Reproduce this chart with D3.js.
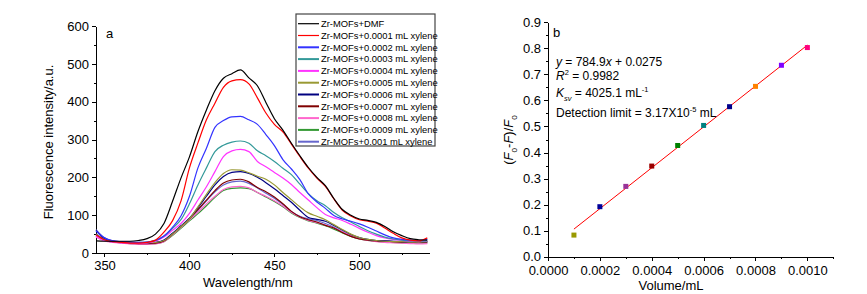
<!DOCTYPE html>
<html>
<head>
<meta charset="utf-8">
<script src="https://cdn.jsdelivr.net/npm/d3@7"></script>
<style>
  body { margin: 0; background: #fff; }
  svg text { font-family: 'Liberation Sans', Arial, sans-serif; fill: #000; }
  .axis path, .axis line { stroke: #000; stroke-width: 1; shape-rendering: crispEdges; }
  .axis text { font-size: 13px; }
  .curve { fill: none; stroke-width: 1.2; }
</style>
</head>
<body>
<div id="graph"></div>
<script>
// Panel a: fluorescence spectra
var wavelengths = [345, 350, 355, 360, 365, 370, 375, 380, 385, 390,
                   395, 400, 405, 410, 415, 420, 425, 430, 435, 440,
                   445, 450, 455, 460, 465, 470, 475, 480, 485, 490,
                   495, 500, 505, 510, 515, 520, 525, 530, 535, 540];

var sDMF   = [32,31,31,31,31,33,38,50,78,136, 198,254,321,378,429,462,474,484,463,442, 398,355,325,290,257,226,200,178,144,115, 100,90,86,81,70,56,46,38,35,34];
var s0001  = [48,35,30,28,26,26,28,34,55,85, 137,225,291,352,396,438,455,458,447,410, 370,340,320,288,255,224,198,176,143,113, 98,88,84,79,66,52,40,34,32,40];
var s0002  = [58,40,32,30,29,28,29,33,45,68, 98,150,225,277,332,350,360,361,352,340, 313,284,247,222,194,156,135,118,99,90, 84,77,68,58,48,40,36,34,33,36];
var s0003  = [50,35,31,29,28,28,29,33,45,65, 88,130,180,225,268,285,293,296,290,270, 257,242,224,207,182,157,138,125,107,93, 82,70,59,50,42,37,34,32,31,32];
var s0004  = [45,33,29,27,26,26,27,31,42,60, 78,105,140,175,215,255,270,274,268,242, 228,213,198,181,160,140,120,102,93,86, 76,65,55,46,40,36,33,31,30,31];
var s0005  = [48,34,30,28,27,26,27,28,33,50, 70,90,122,155,186,210,220,219,212,203, 195,180,160,141,122,106,97,88,75,62, 50,41,36,33,31,30,30,29,29,30];
var s0006  = [60,38,31,29,28,27,27,28,34,52, 72,92,120,150,180,202,213,215,210,200, 186,170,152,134,113,94,89,84,73,61, 49,41,36,33,32,31,30,29,29,30];
var s0007  = [50,35,30,28,26,25,25,26,32,50, 70,90,115,140,165,185,193,195,188,173, 162,148,130,110,96,88,82,73,66,54, 44,37,34,32,31,30,29,28,28,29];
var s0008  = [42,32,28,26,24,23,23,24,30,48, 68,88,108,130,150,168,175,176,172,160, 150,138,124,108,95,86,80,74,66,56, 46,38,33,30,28,27,26,25,24,25];
var s0009  = [45,33,29,27,25,24,24,25,30,46, 65,85,104,125,147,165,171,172,170,160, 148,136,122,106,94,85,79,72,63,53, 44,37,33,31,29,28,27,26,26,27];
var s001   = [62,40,32,29,28,27,27,28,33,50, 70,90,113,138,162,180,188,190,184,172, 158,145,128,110,97,90,86,78,68,56, 46,39,35,33,32,31,30,29,29,30];

var spectra = [sDMF, s0001, s0002, s0003, s0004, s0005, s0006, s0007, s0008, s0009, s001];

var legendLabels  = ['Zr-MOFs+DMF', 'Zr-MOFs+0.0001 mL xylene', 'Zr-MOFs+0.0002 mL xylene',
                     'Zr-MOFs+0.0003 mL xylene', 'Zr-MOFs+0.0004 mL xylene', 'Zr-MOFs+0.0005 mL xylene',
                     'Zr-MOFs+0.0006 mL xylene', 'Zr-MOFs+0.0007 mL xylene', 'Zr-MOFs+0.0008 mL xylene',
                     'Zr-MOFs+0.0009 mL xylene', 'Zr-MOFs+0.001 mL xylene'];
var legendColours = ['#000000', '#ff0000', '#3333ff', '#339999', '#ff33ff', '#999933',
                     '#000080', '#800000', '#ff66cc', '#339933', '#6666cc'];

var aXTicks      = [350, 400, 450, 500];
var aXMinorTicks = [375, 425, 475, 525];
var aYTicks      = [0, 100, 200, 300, 400, 500, 600];
var aYMinorTicks = [50, 150, 250, 350, 450, 550];

// Panel b: Stern-Volmer plot
var volumes   = [0.0001, 0.0002, 0.0003, 0.0004, 0.0005, 0.0006, 0.0007, 0.0008, 0.0009, 0.0010];
var quenching = [0.083, 0.192, 0.270, 0.348, 0.427, 0.504, 0.576, 0.654, 0.735, 0.803];
var pointColours = ['#999900', '#000099', '#993399', '#990000', '#008000',
                    '#008080', '#00008b', '#ff8000', '#8000ff', '#ff0080'];
var fitSlope     = 784.9;
var fitIntercept = 0.0275;

var bXTicks      = [0, 0.0002, 0.0004, 0.0006, 0.0008, 0.0010];
var bXMinorTicks = [0.0001, 0.0003, 0.0005, 0.0007, 0.0009, 0.0011];
var bYTicks      = [0, 0.1, 0.2, 0.3, 0.4, 0.5, 0.6, 0.7, 0.8, 0.9];
var bYMinorTicks = [0.05, 0.15, 0.25, 0.35, 0.45, 0.55, 0.65, 0.75, 0.85];


var svg = d3.select ('div#graph')
            .append ('svg')
            .attr ('width', 867)
            .attr ('height', 294);

// writes a text made of styled parts (italic, sup, sub)
function richText (sel, x, y, parts, size, anchor, rotate)
{
    var t = sel.append ('text')
               .attr ('font-size', size)
               .attr ('text-anchor', anchor || 'start');
    if (rotate)
        t.attr ('transform', 'translate(' + x + ',' + y + ') rotate(-90)');
    else
        t.attr ('x', x).attr ('y', y);

    var cur = 0;
    parts.forEach (function (p)
    {
        var target = p.sup ? -0.38 * size : (p.sub ? 0.3 * size : 0);
        var ts = t.append ('tspan').text (p.t);
        if (p.it) ts.attr ('font-style', 'italic');
        if (p.sup || p.sub) ts.attr ('font-size', size * 0.62);
        if (target !== cur) ts.attr ('dy', target - cur);
        cur = target;
    });
    return t;
}

//
// Panel a
//
var xA = d3.scaleLinear ().domain ([345, 541]).range ([96, 429]);
var yA = d3.scaleLinear ().domain ([0, 600]).range ([253, 26]);

var gA = svg.append ('g');

gA.append ('g').attr ('class', 'axis').attr ('transform', 'translate(0,253)')
  .call (d3.axisBottom (xA).tickValues (aXTicks).tickSize (4).tickPadding (4).tickSizeOuter (0));
gA.append ('g').attr ('class', 'axis').attr ('transform', 'translate(0,253)')
  .call (d3.axisBottom (xA).tickValues (aXMinorTicks).tickSize (2).tickSizeOuter (0).tickFormat (''));
gA.append ('g').attr ('class', 'axis').attr ('transform', 'translate(96,0)')
  .call (d3.axisLeft (yA).tickValues (aYTicks).tickSize (4).tickSizeOuter (0));
gA.append ('g').attr ('class', 'axis').attr ('transform', 'translate(96,0)')
  .call (d3.axisLeft (yA).tickValues (aYMinorTicks).tickSize (2).tickSizeOuter (0).tickFormat (''));

var lineA = d3.line ()
              .x (function (d, i) { return xA (wavelengths[i]); })
              .y (function (d)    { return yA (d); })
              .curve (d3.curveMonotoneX);

// draw the lowest curves first so the top ones stay visible
for (var i = spectra.length - 1; i >= 0; i--)
{
    gA.append ('path')
      .datum (spectra[i])
      .attr ('class', 'curve')
      .attr ('stroke', legendColours[i])
      .attr ('d', lineA);
}

gA.append ('text').attr ('x', 106).attr ('y', 38).attr ('font-size', 13).text ('a');

gA.append ('text')
  .attr ('x', 248).attr ('y', 287)
  .attr ('font-size', 13).attr ('text-anchor', 'middle')
  .text ('Wavelength/nm');

gA.append ('text')
  .attr ('transform', 'translate(53,142) rotate(-90)')
  .attr ('font-size', 13).attr ('text-anchor', 'middle')
  .text ('Fluorescence intensity/a.u.');

// legend
var legend = gA.append ('g');
legend.append ('rect')
      .attr ('x', 296).attr ('y', 14)
      .attr ('width', 139).attr ('height', 132)
      .attr ('fill', '#fff')
      .attr ('stroke', '#444')
      .attr ('stroke-width', 1.2);

for (var i = 0; i < legendLabels.length; i++)
{
    var ly = 23.7 + i * 11.8;
    legend.append ('line')
          .attr ('x1', 298).attr ('x2', 319)
          .attr ('y1', ly).attr ('y2', ly)
          .attr ('stroke', legendColours[i])
          .attr ('stroke-width', i < 2 ? 1.2 : 2);
    legend.append ('text')
          .attr ('x', 321).attr ('y', ly)
          .attr ('dy', '0.35em')
          .attr ('font-size', 9.4)
          .text (legendLabels[i]);
}

//
// Panel b
//
var xB = d3.scaleLinear ().domain ([0, 0.0011]).range ([548, 833.3]);
var yB = d3.scaleLinear ().domain ([0, 0.9]).range ([256.7, 22.3]);

var gB = svg.append ('g');

gB.append ('g').attr ('class', 'axis').attr ('transform', 'translate(0,256.7)')
  .call (d3.axisBottom (xB).tickValues (bXTicks).tickSize (4).tickPadding (5).tickSizeOuter (0).tickFormat (d3.format ('.4f')));
gB.append ('g').attr ('class', 'axis').attr ('transform', 'translate(0,256.7)')
  .call (d3.axisBottom (xB).tickValues (bXMinorTicks).tickSize (2).tickSizeOuter (0).tickFormat (''));
gB.append ('g').attr ('class', 'axis yb').attr ('transform', 'translate(548,0)')
  .call (d3.axisLeft (yB).tickValues (bYTicks).tickSize (4).tickSizeOuter (0).tickFormat (d3.format ('.1f')));
gB.selectAll ('.yb text').attr ('dy', '0.3em');
gB.append ('g').attr ('class', 'axis').attr ('transform', 'translate(548,0)')
  .call (d3.axisLeft (yB).tickValues (bYMinorTicks).tickSize (2).tickSizeOuter (0).tickFormat (''));

// fitted line across the measured range
var fitEnds = [volumes[0], volumes[volumes.length - 1]];
gB.append ('path')
  .datum (fitEnds)
  .attr ('fill', 'none')
  .attr ('stroke', '#ff0000')
  .attr ('stroke-width', 1)
  .attr ('d', d3.line ()
                .x (function (d) { return xB (d); })
                .y (function (d) { return yB (fitSlope * d + fitIntercept); }));

gB.selectAll ('rect.pt')
  .data (volumes)
  .enter ()
  .append ('rect')
  .attr ('class', 'pt')
  .attr ('x', function (d) { return xB (d) - 2.5; })
  .attr ('y', function (d, i) { return yB (quenching[i]) - 2.5; })
  .attr ('width', 5)
  .attr ('height', 5)
  .attr ('fill', function (d, i) { return pointColours[i]; });

gB.append ('text').attr ('x', 553).attr ('y', 37).attr ('font-size', 13).text ('b');

richText (gB, 556, 66, [{t: 'y', it: true}, {t: ' = 784.9'}, {t: 'x', it: true}, {t: ' + 0.0275'}], 12);
richText (gB, 556, 80, [{t: 'R', it: true}, {t: '2', sup: true}, {t: ' = 0.9982'}], 12);
richText (gB, 556, 97, [{t: 'K', it: true}, {t: 'sv', it: true, sub: true}, {t: ' = 4025.1 mL'}, {t: '-1', sup: true}], 12);
richText (gB, 556, 117, [{t: 'Detection limit = 3.17X10'}, {t: '-5', sup: true}, {t: ' mL'}], 12);

gB.append ('text')
  .attr ('x', 671).attr ('y', 290)
  .attr ('font-size', 13).attr ('text-anchor', 'middle')
  .text ('Volume/mL');

richText (gB, 513, 140, [{t: '('}, {t: 'F', it: true}, {t: '0', sub: true}, {t: '-'}, {t: 'F', it: true},
                         {t: ')/'}, {t: 'F', it: true}, {t: '0', sub: true}], 13, 'middle', true);
</script>
</body>
</html>
